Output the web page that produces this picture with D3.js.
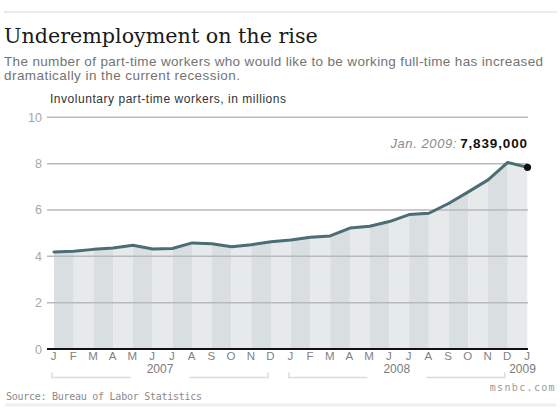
<!DOCTYPE html>
<html>
<head>
<meta charset="utf-8">
<script src="https://cdn.jsdelivr.net/npm/d3@7"></script>
<style>
  html, body { margin: 0; padding: 0; background: #fff; }
  svg { display: block; }
</style>
</head>
<body>
<svg id="chart" width="560" height="415"></svg>
<script>
// ---- data ----
const monthLabels = ["J","F","M","A","M","J","J","A","S","O","N","D",
                     "J","F","M","A","M","J","J","A","S","O","N","D","J"];
const workers = [4.19, 4.22, 4.30, 4.36, 4.48, 4.32, 4.34, 4.58, 4.54, 4.41, 4.50, 4.63,
                 4.70, 4.82, 4.88, 5.22, 5.30, 5.50, 5.80, 5.86, 6.28, 6.78, 7.30, 8.05, 7.839];
const yTicks = [0, 2, 4, 6, 8, 10];
const yearLabels = ["2007", "2008", "2009"];
const yearStart = [0, 12, 24];
const yearEnd = [11, 23, 24];
const title = "Underemployment on the rise";
const subtitleLines = ["The number of part-time workers who would like to be working full-time has increased",
                       "dramatically in the current recession."];
const unitLabel = "Involuntary part-time workers, in millions";
const calloutDate = "Jan. 2009:";
const calloutValue = "7,839,000";
const sourceText = "Source: Bureau of Labor Statistics";
const creditText = "msnbc.com";

// ---- setup ----
const svg = d3.select("#chart");
const x = d3.scaleLinear().domain([0, workers.length - 1]).range([54, 527.5]);
const y = d3.scaleLinear().domain([0, 10]).range([349, 117.3]);
const gridLeft = 47, gridRight = 528;

function fitSpacing(sel, target) {
  const node = sel.node();
  const w = node.getComputedTextLength();
  const n = node.textContent.length;
  if (n > 1) sel.attr("letter-spacing", ((target - w) / (n - 1)).toFixed(3));
  return sel;
}
function fitSize(sel, base, target) {
  sel.attr("font-size", base);
  const w = sel.node().getComputedTextLength();
  sel.attr("font-size", (base * target / w).toFixed(2));
  return sel;
}

// frame lines
svg.append("line").attr("x1", 4).attr("x2", 557).attr("y1", 12).attr("y2", 12)
  .attr("stroke", "#ebebeb").attr("stroke-width", 2);
svg.append("line").attr("x1", 5).attr("x2", 556).attr("y1", 405).attr("y2", 405)
  .attr("stroke", "#eeeeee").attr("stroke-width", 3);

// title
const t = svg.append("text").attr("x", 4).attr("y", 42.5)
  .attr("font-family", "'DejaVu Serif', 'Liberation Serif', serif")
  .attr("fill", "#1a1a1a").text(title);
fitSize(t, 22, 314);

// subtitle
const subW = [539, 236];
subtitleLines.forEach((s, i) => {
  const st = svg.append("text").attr("x", 4).attr("y", 66 + i * 14)
    .attr("font-family", "'Liberation Sans', Arial, sans-serif")
    .attr("font-size", 13.5).attr("fill", "#737373").text(s);
  fitSpacing(st, subW[i]);
});

// unit label
const ul = svg.append("text").attr("x", 50).attr("y", 102.5)
  .attr("font-family", "'Liberation Sans', Arial, sans-serif")
  .attr("font-size", 12).attr("fill", "#333").text(unitLabel);
fitSpacing(ul, 236);

// area + stripes
const area = d3.area().x((d, i) => x(i)).y0(y(0)).y1(d => y(d));
const line = d3.line().x((d, i) => x(i)).y(d => y(d));

svg.append("clipPath").attr("id", "areaClip")
  .append("path").attr("d", area(workers));

const stripes = svg.append("g").attr("clip-path", "url(#areaClip)");
d3.range(workers.length - 1).forEach(i => {
  stripes.append("rect")
    .attr("x", x(i)).attr("width", x(i + 1) - x(i))
    .attr("y", y(10)).attr("height", y(0) - y(10))
    .attr("fill", i % 2 === 0 ? "#d9dfe1" : "#e6eaeb");
});

// gridlines
const grid = svg.append("g");
yTicks.filter(v => v > 0).forEach(v => {
  grid.append("line").attr("x1", gridLeft).attr("x2", gridRight)
    .attr("y1", y(v)).attr("y2", y(v))
    .attr("stroke", "#b9b9b9").attr("stroke-width", 1.5);
});

// y tick labels via axis
const yAxis = svg.append("g").attr("transform", `translate(42,0)`)
  .call(d3.axisLeft(y).tickValues(yTicks).tickSize(0).tickPadding(0).tickFormat(d3.format("d")));
yAxis.select(".domain").remove();
yAxis.selectAll("text").attr("font-family", "'Liberation Sans', Arial, sans-serif")
  .attr("font-size", 12.5).attr("fill", "#a8a8a8");

// baseline
svg.append("line").attr("x1", gridLeft).attr("x2", gridRight)
  .attr("y1", y(0)).attr("y2", y(0)).attr("stroke", "#111").attr("stroke-width", 2.2);

// data line
svg.append("path").attr("d", line(workers))
  .attr("fill", "none").attr("stroke", "#4b6d74").attr("stroke-width", 3)
  .attr("stroke-linejoin", "round").attr("stroke-linecap", "round");

// end dot
const last = workers.length - 1;
svg.append("circle").attr("cx", x(last)).attr("cy", y(workers[last])).attr("r", 3.6)
  .attr("fill", "#111");

// callout
const cv = svg.append("text").attr("x", 528).attr("y", 147.5).attr("text-anchor", "end")
  .attr("font-family", "'Liberation Sans', Arial, sans-serif")
  .attr("font-size", 13.5).attr("font-weight", "bold").attr("fill", "#111").text(calloutValue);
fitSpacing(cv, 67);
const cd = svg.append("text").attr("x", 457).attr("y", 147.5).attr("text-anchor", "end")
  .attr("font-family", "'Liberation Sans', Arial, sans-serif")
  .attr("font-size", 13).attr("font-style", "italic").attr("fill", "#8a8a8a").text(calloutDate);
fitSpacing(cd, 66);

// month labels via axis
const xAxis = svg.append("g").attr("transform", `translate(-1,352)`)
  .call(d3.axisBottom(x).tickValues(d3.range(workers.length)).tickSize(0).tickPadding(0)
    .tickFormat(i => monthLabels[i]));
xAxis.select(".domain").remove();
xAxis.selectAll("text").attr("font-family", "'Liberation Sans', Arial, sans-serif")
  .attr("font-size", 11.5).attr("fill", "#7f7f7f").attr("dy", "0.71em");

// year brackets
yearLabels.forEach((lab, k) => {
  const x1 = x(yearStart[k]) - 2, x2 = x(yearEnd[k]) - 3;
  const cx = (x1 + x2) / 2;
  const yt = svg.append("text").attr("y", 373)
    .attr("font-family", "'Liberation Sans', Arial, sans-serif")
    .attr("font-size", 12).attr("fill", "#7a7a7a").attr("text-anchor", "middle").text(lab);
  if (yearStart[k] === yearEnd[k]) {
    yt.attr("x", x(yearEnd[k]) - 5);
    return;
  }
  yt.attr("x", cx);
  const w = yt.node().getComputedTextLength();
  const gap = w / 2 + 16;
  const g = svg.append("g").attr("stroke", "#dcdcdc").attr("stroke-width", 1.5).attr("fill", "none");
  g.append("path").attr("d", `M${x1},372.5V377.5H${cx - gap}`);
  g.append("path").attr("d", `M${cx + gap},377.5H${x2}V372.5`);
});

// source + credit
const src = svg.append("text").attr("x", 6).attr("y", 399.5)
  .attr("font-family", "'DejaVu Sans Mono', monospace")
  .attr("font-size", 10).attr("fill", "#8a8a8a").text(sourceText);
fitSpacing(src, 196);
const cr = svg.append("text").attr("x", 556).attr("y", 391).attr("text-anchor", "end")
  .attr("font-family", "'DejaVu Sans Mono', monospace")
  .attr("font-size", 10).attr("fill", "#9a9a9a").text(creditText);
fitSpacing(cr, 65);
</script>
</body>
</html>
